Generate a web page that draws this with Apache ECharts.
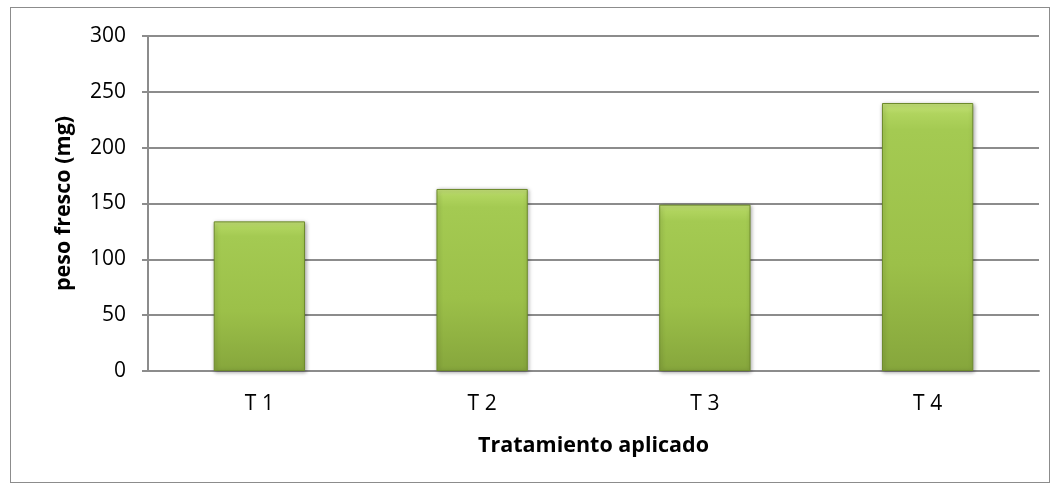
<!DOCTYPE html>
<html><head><meta charset="utf-8">
<script src="https://cdn.jsdelivr.net/npm/echarts@6/dist/echarts.min.js"></script>
<style>
html,body{margin:0;padding:0;background:#fff;}
#frame{position:absolute;left:10px;top:7px;width:1040px;height:476px;border:1px solid #8c8c8c;box-sizing:border-box;}
#c{position:absolute;left:0;top:0;width:1060px;height:488px;}
</style></head>
<body>
<div id="frame"></div>
<div id="c"></div>
<script>
const categories = ['T 1','T 2','T 3','T 4'];
const values = [134, 163, 149, 240];
const yTicks = [0, 50, 100, 150, 200, 250, 300];

const chart = echarts.init(document.getElementById('c'));
const font = '"Open Sans", "Liberation Sans", sans-serif';
chart.setOption({
  animation:false,
  grid:{left:148, right:21, top:36, bottom:117},
  xAxis:{
    type:'category', data:categories,
    name:'Tratamiento aplicado', nameLocation:'middle', nameGap:64,
    nameTextStyle:{fontFamily:'"Open Sans", sans-serif', fontWeight:'bold', fontSize:21.5, color:'#000'},
    axisLine:{lineStyle:{color:'#8c8c8c', width:2}},
    axisTick:{show:false},
    axisLabel:{fontFamily:font, fontSize:21, color:'#000', margin:23}
  },
  yAxis:{
    type:'value', min:0, max:300, interval:50,
    name:'peso fresco (mg)', nameLocation:'middle', nameGap:73, nameRotate:90,
    nameTextStyle:{fontFamily:'"Open Sans", sans-serif', fontWeight:'bold', fontSize:21.5, color:'#000'},
    axisLine:{show:true, lineStyle:{color:'#8c8c8c', width:2}},
    axisTick:{show:true, length:6, lineStyle:{color:'#8c8c8c', width:2}},
    splitLine:{lineStyle:{color:'#8c8c8c', width:2}},
    axisLabel:{fontFamily:font, fontSize:21, color:'#000', margin:22,
      formatter:v=>yTicks.includes(v)?String(v):''}
  },
  series:[{
    type:'bar', data:values, barWidth:'41%',
    itemStyle:{
      color:new echarts.graphic.LinearGradient(0,0,0,1,[
        {offset:0,color:'#c6e27a'},
        {offset:0.04,color:'#b0d45e'},
        {offset:0.1,color:'#a4ca52'},
        {offset:0.6,color:'#9cc049'},
        {offset:1,color:'#86a63c'}
      ]),
      borderColor:'#6d8a2c', borderWidth:1,
      shadowColor:'rgba(0,0,0,0.35)', shadowBlur:4, shadowOffsetX:1, shadowOffsetY:1
    }
  }]
});
</script>
</body></html>
